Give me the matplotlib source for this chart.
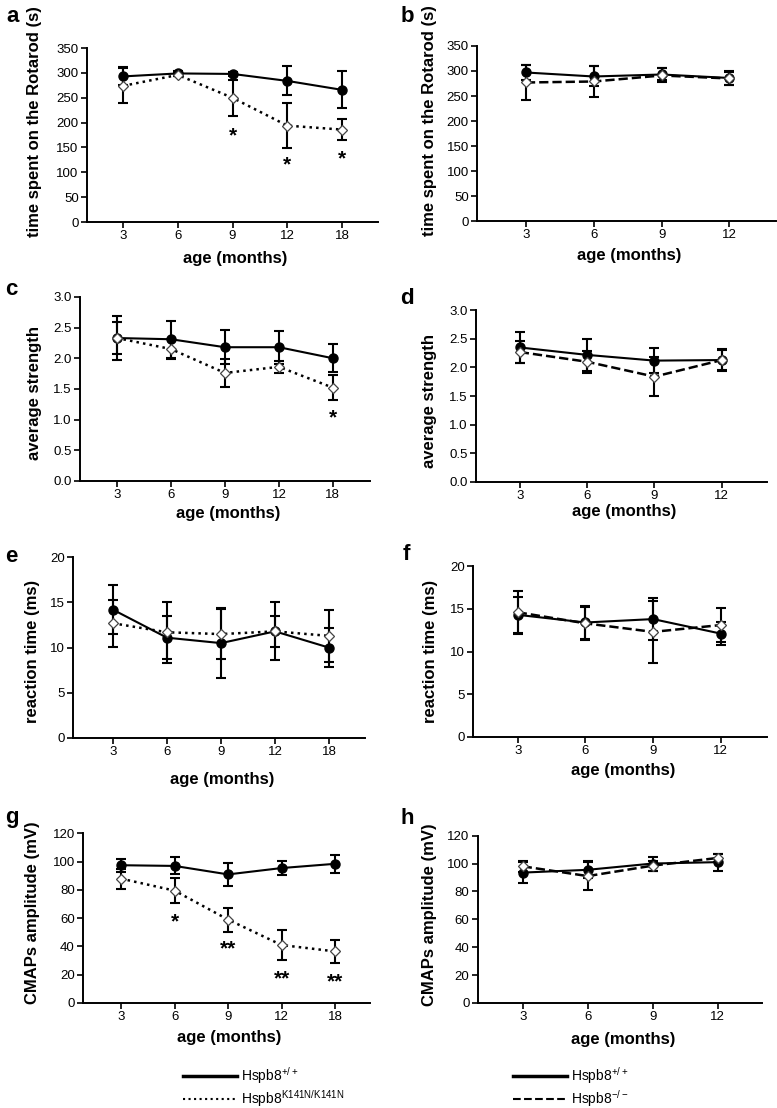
import numpy as np
import matplotlib.pyplot as plt
from matplotlib.lines import Line2D

plt.rcParams['font.family'] = ['Liberation Sans', 'DejaVu Sans']
plt.rcParams['mathtext.default'] = 'regular'

# x categories
ages_ki = ['3', '6', '9', '12', '18']
ages_ko = ['3', '6', '9', '12']

# a: rotarod, knock-in
rot_ki_wt = [293, 299, 298, 284, 266]
rot_ki_wt_err = [18, 5, 4, 29, 37]
rot_ki_mut = [274, 296, 250, 194, 186]
rot_ki_mut_err = [35, 3, 36, 45, 21]
rot_ki_stars = ['', '', '*', '*', '*']
rot_ki_star_y = [0, 0, 191, 131, 143]

# b: rotarod, knock-out
rot_ko_wt = [297, 289, 293, 286]
rot_ko_wt_err = [15, 20, 12, 14]
rot_ko_mut = [277, 279, 291, 285]
rot_ko_mut_err = [34, 30, 14, 13]

# c: grip strength, knock-in
str_ki_wt = [2.33, 2.31, 2.18, 2.18, 2.00]
str_ki_wt_err = [0.36, 0.30, 0.28, 0.27, 0.23]
str_ki_mut = [2.33, 2.15, 1.76, 1.86, 1.52]
str_ki_mut_err = [0.26, 0.17, 0.23, 0.10, 0.20]
str_ki_stars = ['', '', '', '', '*']
str_ki_star_y = [0, 0, 0, 0, 1.16]

# d: grip strength, knock-out
str_ko_wt = [2.35, 2.22, 2.12, 2.13]
str_ko_wt_err = [0.27, 0.28, 0.22, 0.20]
str_ko_mut = [2.27, 2.10, 1.84, 2.13]
str_ko_mut_err = [0.20, 0.19, 0.34, 0.17]

# e: reaction time, knock-in
rt_ki_wt = [14.2, 11.1, 10.5, 11.8, 10.0]
rt_ki_wt_err = [2.7, 2.4, 3.9, 3.2, 2.2]
rt_ki_mut = [12.7, 11.7, 11.5, 11.8, 11.3]
rt_ki_mut_err = [2.6, 3.4, 2.8, 1.7, 2.9]

# f: reaction time, knock-out
rt_ko_wt = [14.3, 13.4, 13.8, 12.1]
rt_ko_wt_err = [2.1, 1.9, 2.5, 1.3]
rt_ko_mut = [14.6, 13.3, 12.3, 13.1]
rt_ko_mut_err = [2.5, 1.9, 3.6, 2.0]

# g: CMAP amplitude, knock-in
cmap_ki_wt = [97.5, 97, 91, 95.5, 98.5]
cmap_ki_wt_err = [4.5, 6, 8, 5, 6.5]
cmap_ki_mut = [88, 79.5, 59, 41, 36.5]
cmap_ki_mut_err = [7, 9, 8.5, 10.5, 8]
cmap_ki_stars = ['', '*', '**', '**', '**']
cmap_ki_star_y = [0, 63.5, 44, 22.8, 20.5]

# h: CMAP amplitude, knock-out
cmap_ko_wt = [93.5, 95.5, 100, 101]
cmap_ko_wt_err = [7.5, 6, 5, 6]
cmap_ko_mut = [98, 91, 98.5, 104]
cmap_ko_mut_err = [4, 10, 3.5, 3]

fig = plt.figure(figsize=(7.77, 11.08), dpi=100)


def panel(rect, letter, letter_xy, ages, wt, wt_err, mut, mut_err, ls,
          ylabel, ymax, ystep, yfmt, xlim, ylab_xy, xlab_y,
          stars=None, star_y=None):
    ax = fig.add_axes(rect)
    x = np.arange(len(ages))
    ax.errorbar(x, wt, yerr=wt_err, fmt='none', ecolor='black',
                elinewidth=1.5, capsize=3.5, capthick=1.5, zorder=2)
    ax.plot(x, wt, '-o', color='black', lw=1.5, ms=6.5, zorder=3)
    ax.errorbar(x, mut, yerr=mut_err, fmt='none', ecolor='black',
                elinewidth=1.5, capsize=3.5, capthick=1.5, zorder=2)
    ax.plot(x, mut, color='black', ls=ls, lw=1.8, zorder=4)
    ax.plot(x, mut, 'D', mfc='white', mec='#444444', mew=0.9, ms=5, zorder=5)
    if stars is not None:
        for xi, s, sy in zip(x, stars, star_y):
            if s:
                ax.annotate(s, (xi, sy), xytext=(0, -6), textcoords='offset points',
                            ha='center', va='center', fontsize=15, fontweight='bold')
    ax.set_xlim(*xlim)
    ax.set_ylim(0, ymax)
    ax.set_xticks(x)
    ax.set_xticklabels(ages)
    yt = np.arange(0, ymax + ystep / 2, ystep)
    ax.set_yticks(yt)
    ax.set_yticklabels([yfmt % v for v in yt])
    for side in ['top', 'right']:
        ax.spines[side].set_visible(False)
    for side in ['left', 'bottom']:
        ax.spines[side].set_linewidth(1.4)
    ax.tick_params(direction='out', length=4, width=1.2, labelsize=9.5, pad=2)
    ax.set_ylabel(ylabel, fontsize=12, fontweight='bold')
    ax.yaxis.set_label_coords(*ylab_xy)
    ax.set_xlabel('age (months)', fontsize=12, fontweight='bold')
    ax.xaxis.set_label_coords(0.51, xlab_y)
    fig.text(letter_xy[0] / 777, 1 - letter_xy[1] / 1108, letter,
             fontsize=16, fontweight='bold', ha='left', va='center')
    return ax


panel([0.112, 0.7996, 0.3745, 0.157], 'a', (6, 17), ages_ki,
      rot_ki_wt, rot_ki_wt_err, rot_ki_mut, rot_ki_mut_err, ':',
      'time spent on the Rotarod (s)', 350, 50, '%d', (-0.66, 4.66),
      (-0.155, 0.575), -29 / 174, rot_ki_stars, rot_ki_star_y)
panel([0.614, 0.8005, 0.385, 0.158], 'b', (401, 17), ages_ko,
      rot_ko_wt, rot_ko_wt_err, rot_ko_mut, rot_ko_mut_err, '--',
      'time spent on the Rotarod (s)', 350, 50, '%d', (-0.72, 3.69),
      (-0.134, 0.575), -27 / 175)
panel([0.103, 0.566, 0.373, 0.166], 'c', (5, 290), ages_ki,
      str_ki_wt, str_ki_wt_err, str_ki_mut, str_ki_mut_err, ':',
      'average strength', 3.0, 0.5, '%.1f', (-0.685, 4.685),
      (-0.131, 0.478), -25 / 184, str_ki_stars, str_ki_star_y)
panel([0.6126, 0.565, 0.3745, 0.155], 'd', (400, 298), ages_ko,
      str_ko_wt, str_ko_wt_err, str_ko_mut, str_ko_mut_err, '--',
      'average strength', 3.0, 0.5, '%.1f', (-0.65, 3.67),
      (-0.134, 0.471), -22 / 172)
panel([0.094, 0.334, 0.376, 0.163], 'e', (5, 557), ages_ki,
      rt_ki_wt, rt_ki_wt_err, rt_ki_mut, rt_ki_mut_err, ':',
      'reaction time (ms)', 20, 5, '%d', (-0.74, 4.67),
      (-0.113, 0.48), -34 / 181)
panel([0.6088, 0.335, 0.378, 0.154], 'f', (403, 555), ages_ko,
      rt_ko_wt, rt_ko_wt_err, rt_ko_mut, rt_ko_mut_err, '--',
      'reaction time (ms)', 20, 5, '%d', (-0.66, 3.68),
      (-0.119, 0.5), -26 / 171)
panel([0.107, 0.0948, 0.369, 0.153], 'g', (5, 818), ages_ki,
      cmap_ki_wt, cmap_ki_wt_err, cmap_ki_mut, cmap_ki_mut_err, ':',
      'CMAPs amplitude (mV)', 120, 20, '%d', (-0.71, 4.65),
      (-0.150, 0.535), -27 / 170, cmap_ki_stars, cmap_ki_star_y)
panel([0.615, 0.0948, 0.3655, 0.151], 'h', (400, 818), ages_ko,
      cmap_ko_wt, cmap_ko_wt_err, cmap_ko_mut, cmap_ko_mut_err, '--',
      'CMAPs amplitude (mV)', 120, 20, '%d', (-0.69, 3.68),
      (-0.144, 0.527), -29 / 167)

# legends
solid = Line2D([], [], color='black', lw=2.5)
dotted = Line2D([], [], color='black', lw=1.5, ls=':')
dashed = Line2D([], [], color='black', lw=1.5, ls='--')
fig.legend([solid, dotted], ['Hspb8$^{+/+}$', 'Hspb8$^{K141N/K141N}$'],
           loc='center left', bbox_to_anchor=(183 / 777, 0.0185),
           frameon=False, fontsize=10, handlelength=3.9, handletextpad=0.3,
           labelspacing=0.15, borderpad=0, borderaxespad=0)
fig.legend([solid, dashed], ['Hspb8$^{+/+}$', 'Hspb8$^{-/-}$'],
           loc='center left', bbox_to_anchor=(513 / 777, 0.0185),
           frameon=False, fontsize=10, handlelength=3.9, handletextpad=0.3,
           labelspacing=0.15, borderpad=0, borderaxespad=0)

fig.savefig('out.png', dpi=100)
